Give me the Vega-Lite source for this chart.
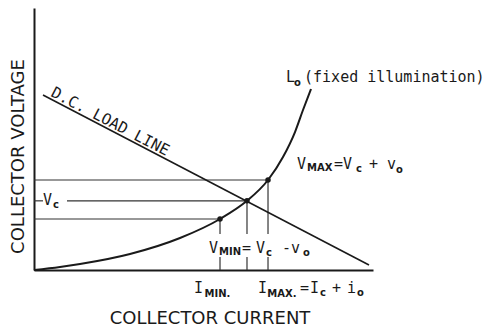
{
  "$schema": "https://vega.github.io/schema/vega-lite/v6.json",
  "width": 339,
  "height": 262,
  "autosize": "none",
  "padding": {"left": 34, "top": 8, "right": 114, "bottom": 59},
  "background": "white",
  "config": {"view": {"stroke": null}},
  "datasets": {
    "curve": [
      {"x": 0, "y": 0},
      {"x": 0.767, "y": 0.115},
      {"x": 1.357, "y": 0.229},
      {"x": 2.832, "y": 0.611},
      {"x": 4.307, "y": 1.221},
      {"x": 5.487, "y": 1.947},
      {"x": 6.283, "y": 2.64},
      {"x": 6.903, "y": 3.435},
      {"x": 7.345, "y": 4.313},
      {"x": 7.699, "y": 5.267},
      {"x": 7.935, "y": 6.107},
      {"x": 8.171, "y": 6.908}
    ],
    "loadline": [
      {"x": 0.265, "y": 6.679, "x2": 9.882, "y2": 0.191}
    ],
    "segments": [
      {"x": 0, "y": 3.435, "x2": 6.903, "y2": 3.435},
      {"x": 0, "y": 2.64, "x2": 0.265, "y2": 2.64},
      {"x": 0.973, "y": 2.64, "x2": 6.283, "y2": 2.64},
      {"x": 0, "y": 1.947, "x2": 5.487, "y2": 1.947},
      {"x": 5.487, "y": 1.947, "x2": 5.487, "y2": 1.374},
      {"x": 5.487, "y": 0.496, "x2": 5.487, "y2": 0},
      {"x": 6.283, "y": 2.64, "x2": 6.283, "y2": 1.374},
      {"x": 6.283, "y": 0.496, "x2": 6.283, "y2": 0},
      {"x": 6.903, "y": 3.435, "x2": 6.903, "y2": 1.374},
      {"x": 6.903, "y": 0.496, "x2": 6.903, "y2": 0}
    ],
    "dots": [
      {"x": 5.487, "y": 1.947},
      {"x": 6.283, "y": 2.64},
      {"x": 6.903, "y": 3.435}
    ],
    "main": [
      {"x": 7.434, "y": 7.176, "text": "L"},
      {"x": 7.965, "y": 7.176, "text": "(fixed illumination)"},
      {"x": 7.758, "y": 3.855, "text": "V"},
      {"x": 8.85, "y": 3.855, "text": "=V"},
      {"x": 9.882, "y": 3.855, "text": "+ v"},
      {"x": 0.265, "y": 2.481, "text": "V"},
      {"x": 5.162, "y": 0.649, "text": "V"},
      {"x": 6.136, "y": 0.649, "text": "="},
      {"x": 6.549, "y": 0.649, "text": "V"},
      {"x": 7.316, "y": 0.649, "text": "-v"},
      {"x": 4.72, "y": -0.878, "text": "I"},
      {"x": 6.608, "y": -0.878, "text": "I"},
      {"x": 7.847, "y": -0.878, "text": "="},
      {"x": 8.142, "y": -0.878, "text": "I"},
      {"x": 8.791, "y": -0.878, "text": "+"},
      {"x": 9.233, "y": -0.878, "text": "i"}
    ],
    "sub": [
      {"x": 7.67, "y": 7.023, "text": "o"},
      {"x": 8.053, "y": 3.779, "text": "MAX"},
      {"x": 9.499, "y": 3.74, "text": "c"},
      {"x": 10.678, "y": 3.702, "text": "o"},
      {"x": 0.56, "y": 2.366, "text": "c"},
      {"x": 5.457, "y": 0.573, "text": "MIN"},
      {"x": 6.844, "y": 0.534, "text": "c"},
      {"x": 7.935, "y": 0.534, "text": "o"},
      {"x": 5.03, "y": -1.031, "text": "MIN."},
      {"x": 6.88, "y": -1.031, "text": "MAX."},
      {"x": 8.437, "y": -0.992, "text": "c"},
      {"x": 9.528, "y": -0.992, "text": "o"}
    ],
    "loadlabel": [
      {"x": 2.183, "y": 5.496, "text": "D.C. LOAD LINE"}
    ]
  },
  "encoding": {
    "x": {
      "field": "x",
      "type": "quantitative",
      "scale": {"domain": [0, 10], "nice": false, "zero": false},
      "axis": {
        "title": "COLLECTOR CURRENT",
        "domain": true,
        "domainColor": "#1a1a1a",
        "domainWidth": 2,
        "ticks": false,
        "labels": false,
        "grid": false,
        "titleFont": "DejaVu Sans",
        "titleFontSize": 18,
        "titleFontWeight": "normal",
        "titleColor": "#1a1a1a",
        "titleX": 175.5,
        "titleY": 53,
        "titleAlign": "center",
        "titleBaseline": "alphabetic"
      }
    },
    "y": {
      "field": "y",
      "type": "quantitative",
      "scale": {"domain": [0, 10], "nice": false, "zero": false},
      "axis": {
        "title": "COLLECTOR VOLTAGE",
        "domain": true,
        "domainColor": "#1a1a1a",
        "domainWidth": 2,
        "ticks": false,
        "labels": false,
        "grid": false,
        "titleFont": "DejaVu Sans",
        "titleFontSize": 18,
        "titleFontWeight": "normal",
        "titleColor": "#1a1a1a",
        "titleAngle": -90,
        "titleX": -11,
        "titleY": 148,
        "titleAlign": "center",
        "titleBaseline": "alphabetic"
      }
    }
  },
  "layer": [
    {
      "data": {"name": "segments"},
      "mark": {"type": "rule", "color": "#333333", "strokeWidth": 1.2},
      "encoding": {"x2": {"field": "x2"}, "y2": {"field": "y2"}}
    },
    {
      "data": {"name": "loadline"},
      "mark": {"type": "rule", "color": "#1a1a1a", "strokeWidth": 1.6},
      "encoding": {"x2": {"field": "x2"}, "y2": {"field": "y2"}}
    },
    {
      "data": {"name": "curve"},
      "mark": {"type": "line", "color": "#1a1a1a", "strokeWidth": 2, "interpolate": "monotone"},
      "encoding": {}
    },
    {
      "data": {"name": "dots"},
      "mark": {"type": "point", "filled": true, "color": "#1a1a1a", "size": 30, "opacity": 1},
      "encoding": {}
    },
    {
      "data": {"name": "main"},
      "mark": {"type": "text", "font": "DejaVu Sans Mono", "fontSize": 15, "align": "left", "baseline": "alphabetic", "color": "#1a1a1a"},
      "encoding": {"text": {"field": "text"}}
    },
    {
      "data": {"name": "sub"},
      "mark": {"type": "text", "font": "DejaVu Sans", "fontWeight": "bold", "fontSize": 10, "align": "left", "baseline": "alphabetic", "color": "#1a1a1a"},
      "encoding": {"text": {"field": "text"}}
    },
    {
      "data": {"name": "loadlabel"},
      "mark": {"type": "text", "font": "DejaVu Sans Mono", "fontSize": 15.5, "align": "center", "baseline": "alphabetic", "angle": 27.5, "color": "#1a1a1a"},
      "encoding": {"text": {"field": "text"}}
    }
  ]
}
